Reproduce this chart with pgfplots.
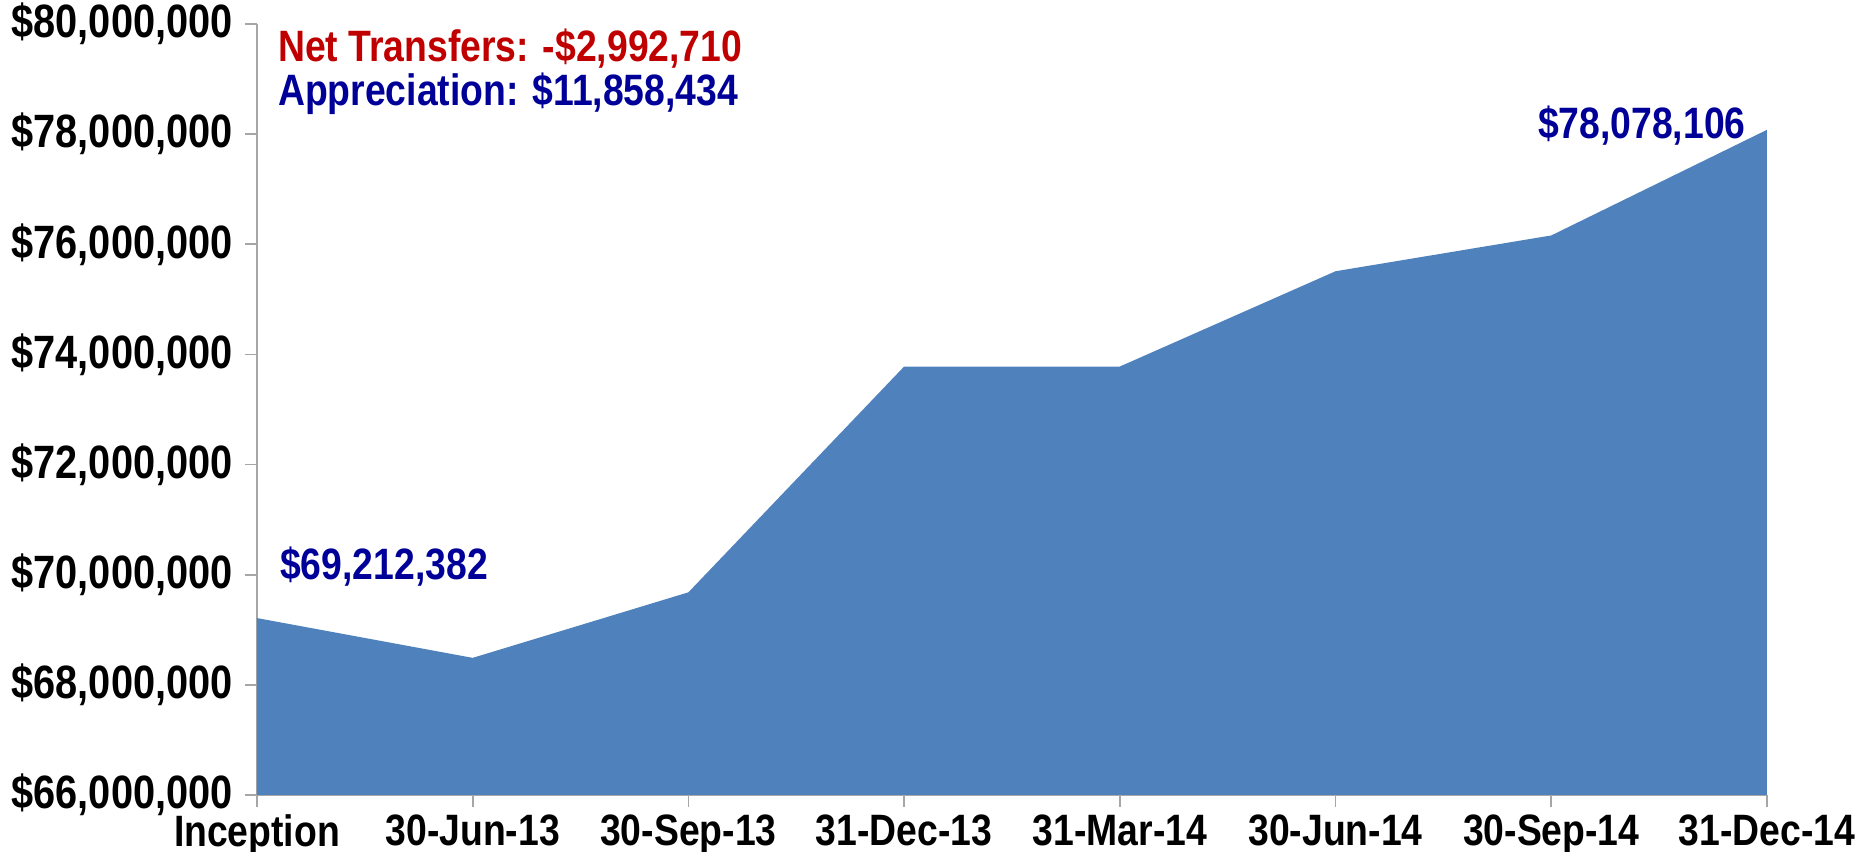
\documentclass[border=0pt]{standalone}
\usepackage{pgfplots}
\pgfplotsset{compat=1.18}
\usepackage{fontspec}
\setmainfont{Liberation Sans}[FakeStretch=0.85]
\definecolor{areablue}{HTML}{4F81BD}
\definecolor{annblue}{HTML}{000099}
\definecolor{annred}{HTML}{C00000}
\definecolor{axgray}{HTML}{A6A6A6}
\begin{document}
\begin{tikzpicture}
\path[use as bounding box] (-25.7mm,-5.7mm) rectangle (161.5mm,79.5mm);
\begin{axis}[
  scale only axis,
  width=151mm, height=77.1mm,
  at={(0,0)}, anchor=south west,
  xmin=0, xmax=7,
  ymin=66000000, ymax=80000000,
  scaled y ticks=false,
  axis lines*=left,
  axis line style={axgray, line width=0.5pt},
  tick style={axgray, line width=0.5pt},
  tick align=outside,
  major tick length=1.2mm,
  xtick={0,1,2,3,4,5,6,7},
  xticklabels={Inception,30-Jun-13,30-Sep-13,31-Dec-13,31-Mar-14,30-Jun-14,30-Sep-14,31-Dec-14},
  ytick={66000000,68000000,70000000,72000000,74000000,76000000,78000000,80000000},
  yticklabels={{\$66,000,000},{\$68,000,000},{\$70,000,000},{\$72,000,000},{\$74,000,000},{\$76,000,000},{\$78,000,000},{\$80,000,000}},
  yticklabel style={font=\fontsize{13.3}{15}\selectfont\bfseries, text=black},
  xticklabel style={font=\fontsize{12.5}{14}\selectfont\bfseries, text=black, yshift=0.5mm},
  clip=false,
]
\addplot[fill=areablue, draw=none] coordinates {
  (0,69212382) (1,68490000) (2,69680000) (3,73780000) (4,73780000) (5,75510000) (6,76160000) (7,78078106)
} \closedcycle;
\node[anchor=west, text=annred, font=\fontsize{12.5}{14}\selectfont\bfseries] at (axis cs:0.04,79560000) {Net Transfers: -\$2,992,710};
\node[anchor=west, text=annblue, font=\fontsize{12.5}{14}\selectfont\bfseries] at (axis cs:0.04,78740000) {Appreciation: \$11,858,434};
\node[anchor=west, text=annblue, font=\fontsize{12.5}{14}\selectfont\bfseries] at (axis cs:0.05,70150000) {\$69,212,382};
\node[anchor=center, text=annblue, font=\fontsize{12.5}{14}\selectfont\bfseries] at (axis cs:6.42,78150000) {\$78,078,106};
\end{axis}
\end{tikzpicture}
\end{document}
